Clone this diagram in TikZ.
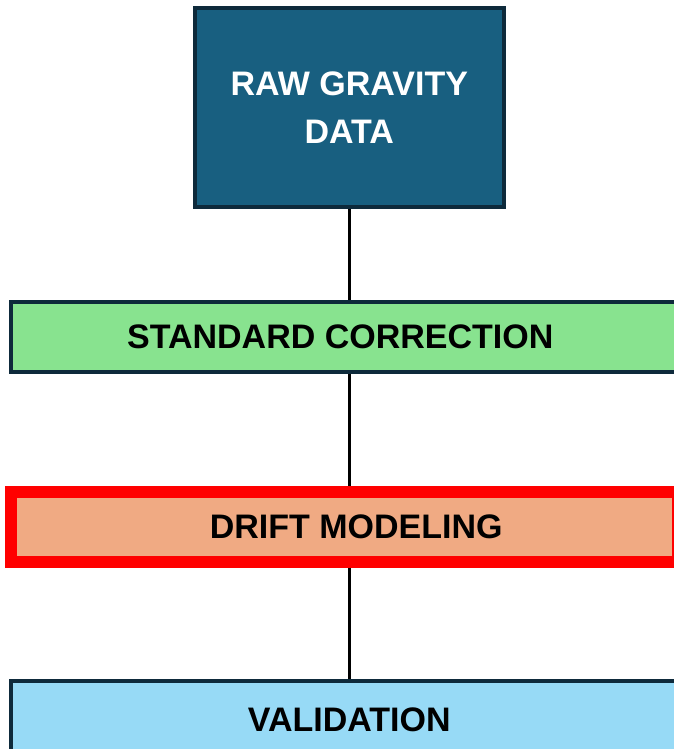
\documentclass[tikz,border=0pt]{standalone}
\usepackage{fontspec}
\setmainfont{Liberation Sans}
\usetikzlibrary{positioning}

\definecolor{rawblue}{RGB}{24,95,128}
\definecolor{edgedark}{RGB}{14,42,59}
\definecolor{corrgreen}{RGB}{136,227,143}
\definecolor{driftsalmon}{RGB}{240,170,131}
\definecolor{validblue}{RGB}{151,218,246}

\tikzset{
  stage/.style={rectangle, draw=edgedark, line width=4pt, minimum height=70pt,
    font=\fontsize{34}{48}\selectfont\bfseries, align=center},
  link/.style={draw=black, line width=3.5pt},
}

\begin{document}
\begin{tikzpicture}[node distance=91pt]
  \useasboundingbox (0,0) rectangle (674pt,749pt);

  \node[stage, fill=rawblue, text=white, minimum width=309.5pt, minimum height=199pt] (raw) at (349.25pt,641.5pt) {RAW GRAVITY\\DATA};

  \node[stage, fill=corrgreen, minimum width=676pt] (corr) [below = of raw] {STANDARD CORRECTION\hspace*{18pt}};
  \node[stage, fill=driftsalmon, draw=red, line width=12pt, minimum width=667pt] (drift) [below = 112pt of corr, xshift=-5pt] {\hspace*{24pt}DRIFT MODELING};
  \node[stage, fill=validblue, minimum width=676pt, minimum height=77pt] (valid) [below = 111pt of drift, xshift=5pt] {VALIDATION};

  % connectors between the stages
  \path[link] (raw) -- (corr);
  \path[link] (corr.south) -- (corr.south |- drift.north);
  \path[link] (drift.south -| corr.south) -- (valid.north);

\end{tikzpicture}
\end{document}
